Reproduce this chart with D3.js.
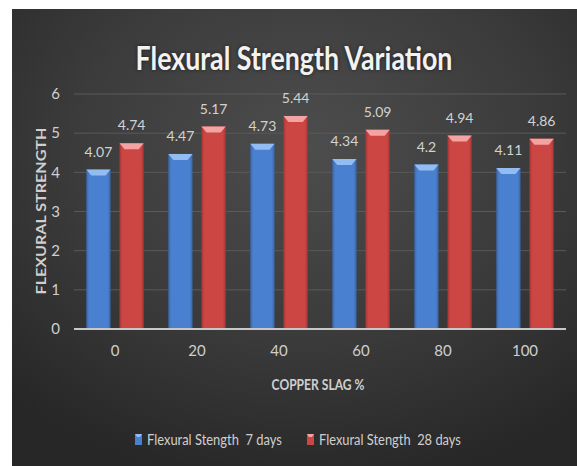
<!DOCTYPE html>
<html>
<head>
<meta charset="utf-8">
<script src="https://cdn.jsdelivr.net/npm/d3@7"></script>
<style>
  body { margin: 0; background: #fff; }
  svg { display: block; }
  text { font-family: Lato, "Open Sans", sans-serif; }
</style>
</head>
<body>
<div id="chart"></div>
<script>
var categories = ["0", "20", "40", "60", "80", "100"]
var series = ["Flexural Stength  7 days", "Flexural Stength  28 days"]
var days7 = [4.07, 4.47, 4.73, 4.34, 4.2, 4.11]
var days28 = [4.74, 5.17, 5.44, 5.09, 4.94, 4.86]
var yTicks = [0, 1, 2, 3, 4, 5, 6]

var W = 577, H = 466
var margin = ({top: 94, right: 11, bottom: 137, left: 74})

var svg = d3.select('#chart').append('svg')
  .attr('width', W)
  .attr('height', H)

var defs = svg.append('defs')
var bg = defs.append('radialGradient').attr('id', 'bg')
  .attr('cx', '0.52').attr('cy', '0.3').attr('r', '0.75')
bg.append('stop').attr('offset', '0%').attr('stop-color', '#4d4d4d')
bg.append('stop').attr('offset', '55%').attr('stop-color', '#3b3b3b')
bg.append('stop').attr('offset', '100%').attr('stop-color', '#272727')

function barGrad(id, edge, mid) {
  var g = defs.append('linearGradient').attr('id', id)
    .attr('x1', '0').attr('x2', '1').attr('y1', '0').attr('y2', '0')
  g.append('stop').attr('offset', '0%').attr('stop-color', edge)
  g.append('stop').attr('offset', '12%').attr('stop-color', mid)
  g.append('stop').attr('offset', '88%').attr('stop-color', mid)
  g.append('stop').attr('offset', '100%').attr('stop-color', edge)
}
barGrad('blueBar', '#3a66a8', '#4a80d0')
barGrad('redBar', '#a83634', '#cc4644')
var colors = ['#4a80d0', '#cc4644']
var fills = ['url(#blueBar)', 'url(#redBar)']
var bevel = ['#93bdf2', '#f2a3a2']

// white border then dark panel
svg.append('rect').attr('x', 12).attr('y', 9)
  .attr('width', W - 12).attr('height', H - 9)
  .attr('fill', 'url(#bg)')

var x = d3.scaleBand()
  .domain(categories)
  .range([margin.left, W - margin.right])
  .paddingInner(0.3)
  .paddingOuter(0.15)

var x1 = d3.scaleBand()
  .domain([0, 1])
  .range([0, x.bandwidth()])
  .paddingInner(0.27)

var y = d3.scaleLinear()
  .domain([0, 6])
  .range([329, 94])

// grid
svg.append('g').selectAll('line')
  .data(yTicks.slice(1))
  .join('line')
  .attr('x1', margin.left).attr('x2', W - margin.right)
  .attr('y1', d => y(d)).attr('y2', d => y(d))
  .attr('stroke', '#5a5a5a').attr('stroke-width', 1)

var yAxis = g => g
  .attr('transform', `translate(${margin.left},0)`)
  .call(d3.axisLeft(y).tickValues(yTicks).tickFormat(d3.format('d')).tickSize(0).tickPadding(14))
  .call(g => g.select('.domain').remove())
  .call(g => g.selectAll('text').attr('fill', '#cfcfcf').attr('font-size', 15))

var xAxis = g => g
  .attr('transform', `translate(0,${y(0)})`)
  .call(d3.axisBottom(x).tickSize(0).tickPadding(16))
  .call(g => g.select('.domain').remove())
  .call(g => g.selectAll('text').attr('fill', '#cfcfcf').attr('font-size', 15))

svg.append('g').call(yAxis)
svg.append('g').call(xAxis)

var rows = []
categories.forEach(function(c, i) {
  rows.push({cat: c, s: 0, v: days7[i]})
  rows.push({cat: c, s: 1, v: days28[i]})
})

var bars = svg.append('g').selectAll('g')
  .data(rows)
  .join('g')
  .attr('transform', d => `translate(${x(d.cat) + x1(d.s)},0)`)

bars.append('rect')
  .attr('x', 0)
  .attr('y', d => y(d.v))
  .attr('width', x1.bandwidth())
  .attr('height', d => y(0) - y(d.v))
  .attr('fill', d => fills[d.s])

bars.append('path')
  .attr('d', function(d) {
    var w = x1.bandwidth(), t = y(d.v)
    return `M0,${t}L${w},${t}L${w - 5},${t + 6}L5,${t + 6}Z`
  })
  .attr('fill', d => bevel[d.s])

bars.append('text')
  .attr('x', x1.bandwidth() / 2)
  .attr('y', d => y(d.v) - 13)
  .attr('text-anchor', 'middle')
  .attr('fill', '#d2d2d2')
  .attr('font-size', 14)
  .text(d => d.v)

// baseline
svg.append('line')
  .attr('x1', margin.left).attr('x2', W - margin.right)
  .attr('y1', y(0)).attr('y2', y(0))
  .attr('stroke', '#c8c8c8').attr('stroke-width', 2)

// squeeze or stretch a text horizontally so it spans the given width
function fitX(sel, width, pre) {
  var len = sel.node().getComputedTextLength()
  var sx = len > 0 ? width / len : 1
  sel.attr('transform', pre + ` scale(${sx},1)`)
  return sel
}

var title = svg.append('text')
  .attr('text-anchor', 'middle')
  .attr('fill', '#f2f2f2')
  .attr('font-weight', 'bold')
  .attr('font-size', 33)
  .style('text-shadow', '0 0 4px rgba(0,0,0,0.6)')
  .text('Flexural Strength Variation')
fitX(title, 317, 'translate(294,70)')

var xt = svg.append('text')
  .attr('text-anchor', 'middle')
  .attr('fill', '#cfcfcf')
  .attr('font-weight', 'bold')
  .attr('font-size', 15)
  .text('COPPER SLAG %')
fitX(xt, 93, 'translate(318,390)')

var yt = svg.append('text')
  .attr('text-anchor', 'middle')
  .attr('fill', '#cfcfcf')
  .attr('font-weight', 'bold')
  .attr('font-size', 12.5)
  .text('FLEXURAL STRENGTH')
fitX(yt, 167, 'translate(45.5,211) rotate(-90)')

// legend
var legX = [135, 307], legW = [135, 142]
var leg = svg.append('g').selectAll('g')
  .data(series)
  .join('g')
  .attr('transform', (d, i) => `translate(${legX[i]},434)`)

leg.append('rect')
  .attr('width', 7).attr('height', 11)
  .attr('fill', (d, i) => colors[i])
leg.append('path')
  .attr('d', 'M0,0L7,0L5,3L2,3Z')
  .attr('fill', (d, i) => bevel[i])
leg.append('text')
  .attr('fill', '#cfcfcf')
  .attr('font-size', 16)
  .style('white-space', 'pre')
  .text(d => d)
  .each(function(d, i) { fitX(d3.select(this), legW[i], 'translate(12,11)') })
</script>
</body>
</html>
